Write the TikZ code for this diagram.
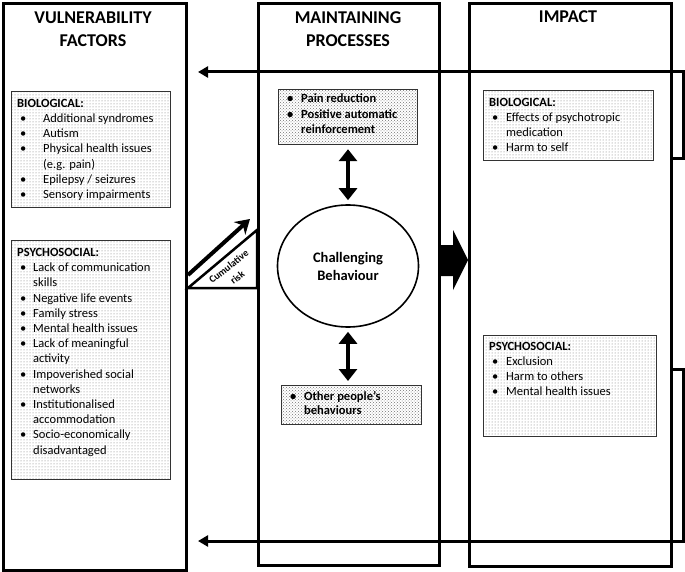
\documentclass[tikz,border=0pt]{standalone}
\usepackage{fontspec}
\setmainfont{Carlito}
\usetikzlibrary{positioning, arrows.meta, patterns, shapes.geometric}
\tikzset{
  column/.style={draw, line width=3pt, anchor=north west, inner sep=0pt},
  factorbox/.style={draw=black!80, line width=1.2pt, pattern=dots, pattern color=black!55,
                    anchor=north west, inner sep=0pt},
  procbox/.style={factorbox, pattern=crosshatch dots},
  boxtext/.style={anchor=north west, align=left, inner sep=0pt,
                  font=\fontsize{12.5}{15.2}\selectfont},
  title/.style={font=\fontsize{18}{23}\selectfont\bfseries, align=center},
  feedback/.style={line width=3pt, -{Triangle[length=10pt,width=11pt]}, shorten >=10pt},
  twoway/.style={line width=3.5pt, {Triangle[length=12pt,width=18pt]}-{Triangle[length=12pt,width=18pt]},
                 shorten >=4pt, shorten <=4pt}
}
\newcommand{\bul}[1][17pt]{\makebox[#1][l]{\hspace{3pt}\textbullet}}
\newcommand{\cont}[1][17pt]{\hspace*{#1}}

\begin{document}
\begin{tikzpicture}[x=1pt, y=-1pt]
\useasboundingbox (0,0) rectangle (685,572);

\node[column, minimum width=183pt, minimum height=567pt] (vuln) at (2,2) {};
\node[column, minimum width=181pt, minimum height=562pt] (maint) at (257,2) {};
\node[column, minimum width=202pt, minimum height=563pt] (impact) at (468,2) {};

\node[title] (t1) at (93,29) {VULNERABILITY\\FACTORS};
\node[title] (t2) at (348,29) {MAINTAINING\\PROCESSES};
\node[title] (t3) at (568,17) {IMPACT};

\node[factorbox, minimum width=159pt, minimum height=116pt] (bio1) at (11,91) {};
\node[boxtext, below right=8pt and 6pt of bio1.north west] (bio1txt) {\textbf{BIOLOGICAL:}\\
  \bul[26pt]Additional syndromes\\
  \bul[26pt]Autism\\
  \bul[26pt]Physical health issues\\
  \cont[26pt](e.g. pain)\\
  \bul[26pt]Epilepsy / seizures\\
  \bul[26pt]Sensory impairments};

\node[factorbox, minimum width=159pt, minimum height=239pt] (psy1) at (11,240) {};
\node[boxtext, below right=8pt and 6pt of psy1.north west] (psy1txt) {\textbf{PSYCHOSOCIAL:}\\
  \bul[16pt]Lack of communication\\
  \cont[16pt]skills\\
  \bul[16pt]Negative life events\\
  \bul[16pt]Family stress\\
  \bul[16pt]Mental health issues\\
  \bul[16pt]Lack of meaningful\\
  \cont[16pt]activity\\
  \bul[16pt]Impoverished social\\
  \cont[16pt]networks\\
  \bul[16pt]Institutionalised\\
  \cont[16pt]accommodation\\
  \bul[16pt]Socio-economically\\
  \cont[16pt]disadvantaged};

\node[procbox, minimum width=139pt, minimum height=55pt] (proc1) at (278,89) {};
\node[boxtext, font=\fontsize{12.5}{15.5}\selectfont\bfseries, below right=5pt and 6pt of proc1.north west] (proc1txt) {%
  \bul Pain reduction\\
  \bul Positive automatic\\
  \cont reinforcement};

\node[draw, ellipse, line width=1.6pt, minimum width=141pt, minimum height=122pt,
      font=\fontsize{14.5}{18}\selectfont\bfseries, align=center] (cb) at (348,266) {Challenging\\Behaviour};

\node[procbox, minimum width=140pt, minimum height=39pt] (proc2) at (281,385) {};
\node[boxtext, font=\fontsize{12.5}{14.5}\selectfont\bfseries, below right=6pt and 6pt of proc2.north west] (proc2txt) {%
  \bul Other people's\\
  \cont behaviours};

\draw[twoway] (cb.north |- proc1.south) -- (cb.north);
\draw[twoway] (cb.south) -- (cb.south |- proc2.north);

\node[factorbox, minimum width=170pt, minimum height=70pt] (bio2) at (483,90) {};
\node[boxtext, below right=8pt and 6pt of bio2.north west] (bio2txt) {\textbf{BIOLOGICAL:}\\
  \bul Effects of psychotropic\\
  \cont medication\\
  \bul Harm to self};

\node[factorbox, minimum width=173pt, minimum height=101pt] (psy2) at (483,335) {};
\node[boxtext, below right=7pt and 6pt of psy2.north west] (psy2txt) {\textbf{PSYCHOSOCIAL:}\\
  \bul Exclusion\\
  \bul Harm to others\\
  \bul Mental health issues};

\fill (maint.east |- 0,245) -- (453,245) -- (453,230) -- (impact.west |- 0,260)
  -- (453,290) -- (453,276) -- (maint.east |- 0,276) -- cycle;

\coordinate (cr1) at (vuln.east |- 0,288);
\coordinate (cr2) at (maint.west |- 0,230);
\coordinate (cr3) at (maint.west |- 0,288);
\draw[line width=2.5pt] (cr1) -- (cr2) -- (cr3) -- cycle;
\draw[line width=4pt, -{Stealth[length=14pt,width=17pt]}] (vuln.east |- 0,275) -- (250,219);
\node[rotate=38.5, font=\fontsize{10}{14}\selectfont\bfseries, align=center, inner sep=0pt] (risk) at (233,272) {Cumulative\\risk};

\draw[feedback] (impact.east |- 0,159) -- (683.5,159) -- (683.5,72) -- (vuln.east |- 0,72);
\draw[feedback] (impact.east |- 0,369) -- (683.5,369) -- (683.5,541) -- (vuln.east |- 0,541);
\end{tikzpicture}
\end{document}
